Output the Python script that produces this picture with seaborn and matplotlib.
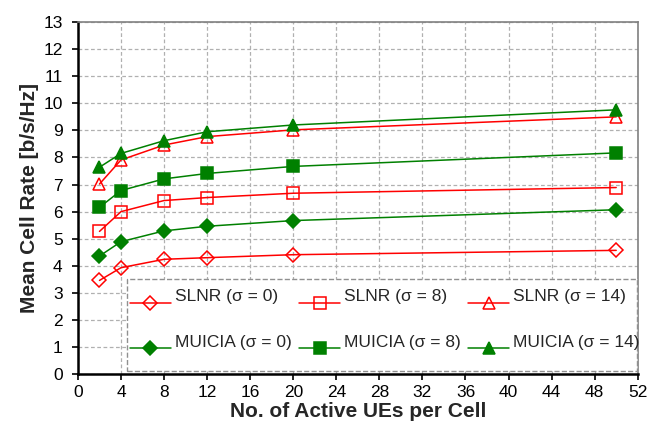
import matplotlib
matplotlib.use("Agg")
import matplotlib.pyplot as plt
from matplotlib.lines import Line2D
from matplotlib.legend_handler import HandlerLine2D
from matplotlib.patches import Rectangle
import seaborn as sns
import pandas as pd

users = [2, 4, 8, 12, 20, 50]
slnr_s0 = [3.46, 3.93, 4.24, 4.30, 4.41, 4.57]
slnr_s8 = [5.27, 6.00, 6.41, 6.52, 6.68, 6.89]
slnr_s14 = [7.02, 7.91, 8.46, 8.77, 9.02, 9.50]
muicia_s0 = [4.36, 4.89, 5.29, 5.46, 5.67, 6.07]
muicia_s8 = [6.16, 6.78, 7.21, 7.41, 7.67, 8.17]
muicia_s14 = [7.64, 8.15, 8.62, 8.95, 9.20, 9.76]

x_ticks = list(range(0, 53, 4))
y_ticks = list(range(0, 14))

sns.set_theme(style="white")
plt.rcParams['font.family'] = ['Liberation Sans', 'DejaVu Sans']


class ShiftedLineHandler(HandlerLine2D):
    """Draws the legend line a bit below the label's centre."""
    def __init__(self, shift=0.7, **kw):
        super().__init__(**kw)
        self.shift = shift

    def create_artists(self, legend, orig_handle, xdescent, ydescent,
                       width, height, fontsize, trans):
        return super().create_artists(legend, orig_handle, xdescent,
                                      ydescent + self.shift * fontsize,
                                      width, height, fontsize, trans)


fig = plt.figure(figsize=(6.72, 4.33), dpi=100)
ax = fig.add_axes([0.116, 0.136, 0.833, 0.813])

series = [
    ("SLNR (σ = 0)", slnr_s0, "#ff0000", "D", "none", 7.5),
    ("MUICIA (σ = 0)", muicia_s0, "#008000", "D", "#008000", 7.5),
    ("SLNR (σ = 8)", slnr_s8, "#ff0000", "s", "none", 8),
    ("MUICIA (σ = 8)", muicia_s8, "#008000", "s", "#008000", 8),
    ("SLNR (σ = 14)", slnr_s14, "#ff0000", "^", "none", 9),
    ("MUICIA (σ = 14)", muicia_s14, "#008000", "^", "#008000", 9),
]

for label, vals, col, mk, fc, ms in series:
    df = pd.DataFrame({"x": users, "y": vals})
    sns.lineplot(data=df, x="x", y="y", ax=ax, label=label, color=col,
                 marker=mk, markersize=ms, markerfacecolor=fc,
                 markeredgecolor=col, markeredgewidth=1.1, linewidth=1.1)

ax.set_xlim(0, 52)
ax.set_ylim(0, 13)
ax.set_xticks(x_ticks)
ax.set_yticks(y_ticks)
ax.tick_params(axis='both', labelsize=12.5, direction='out', length=4, width=1.2,
               colors='black', bottom=True, left=True)
ax.tick_params(axis='y', pad=7)
ax.tick_params(axis='x', pad=4)
ax.grid(True, linestyle=(0, (3, 2)), color='#b0b0b0', linewidth=0.9)
for s in ['left', 'bottom']:
    ax.spines[s].set_color('black')
    ax.spines[s].set_linewidth(1.8)
for s in ['top', 'right']:
    ax.spines[s].set_color('#808080')
    ax.spines[s].set_linewidth(1.2)

ax.set_xlabel("No. of Active UEs per Cell", fontsize=15, fontweight='bold', labelpad=1)
ax.set_ylabel("Mean Cell Rate [b/s/Hz]", fontsize=15, fontweight='bold', labelpad=3)

leg = ax.legend(ncol=3, loc='center left', bbox_to_anchor=(0.093, 0.155),
                borderaxespad=0, borderpad=0, fontsize=12.5, handlelength=2.36,
                handletextpad=0.23, labelspacing=1.75, columnspacing=0.42,
                frameon=False,
                handler_map={Line2D: ShiftedLineHandler(shift=0.85)})

ax.add_patch(Rectangle((0.0875, 0.0085), 0.9107, 0.261, transform=ax.transAxes,
                       facecolor='white', edgecolor='#909090', linestyle='--',
                       linewidth=1.0, zorder=4))
leg.set_zorder(5)

fig.savefig("out.png", dpi=100)
